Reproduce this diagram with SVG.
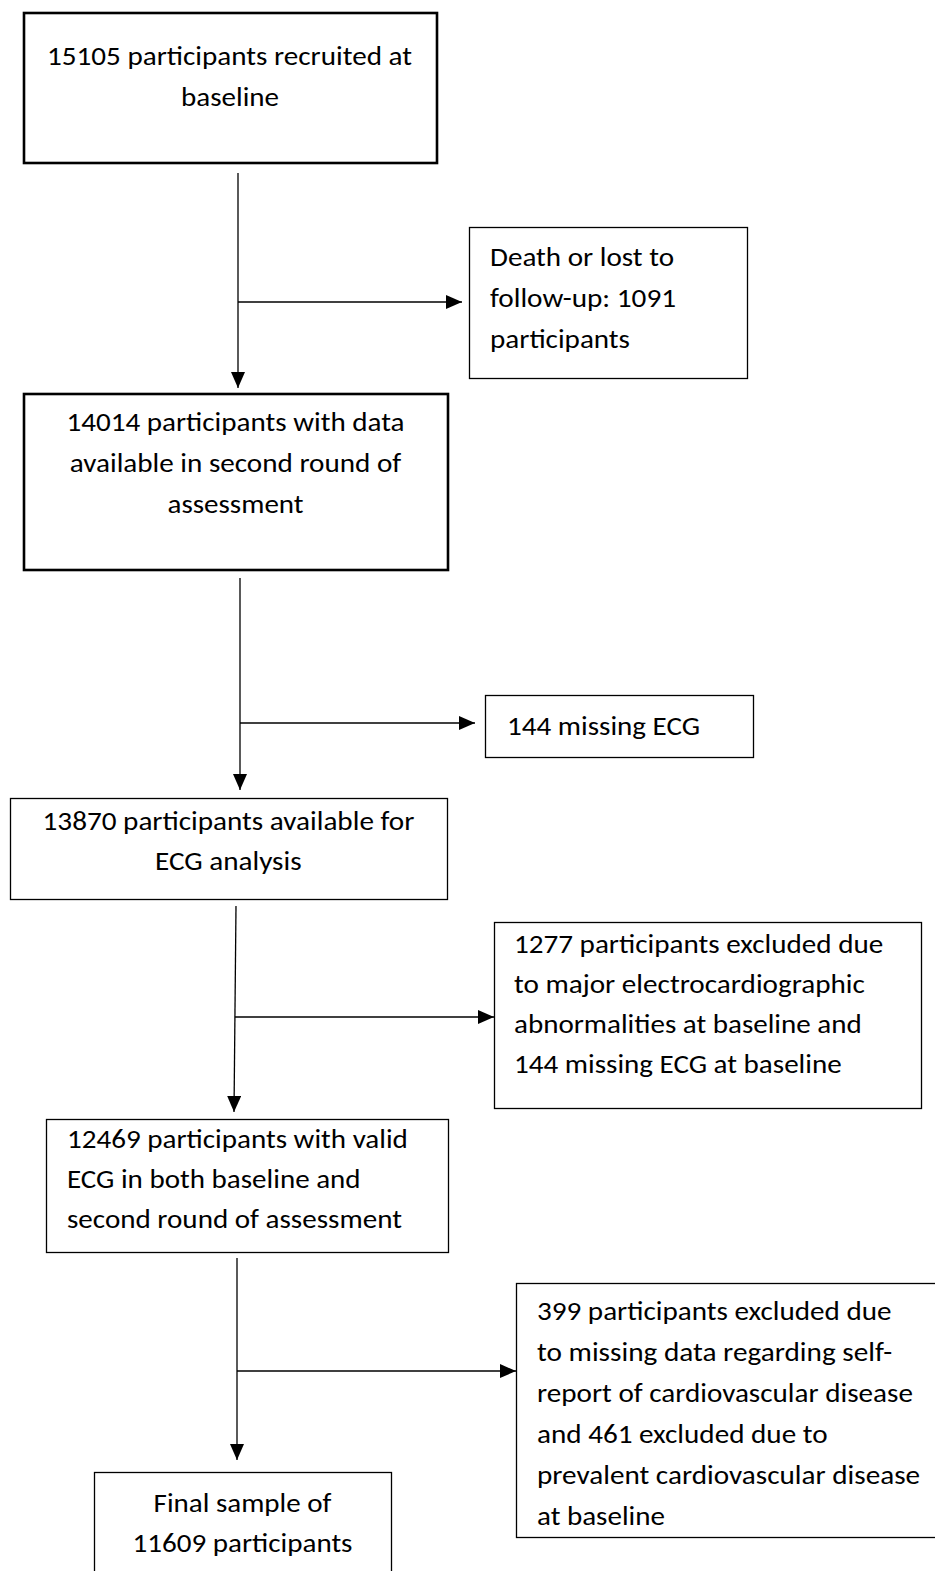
<svg xmlns="http://www.w3.org/2000/svg" width="935" height="1571" viewBox="0 0 935 1571">
<style>
.box{fill:#fff;stroke:#000;stroke-width:1.3}
.bold{fill:#fff;stroke:#000;stroke-width:2.6}
.t{font-family:Carlito,Lato,"Liberation Sans",sans-serif;font-size:27.5px;fill:#000}
.c{fill:none;stroke:#000;stroke-width:1.3}
</style>
<defs>
<marker id="ah" viewBox="0 0 16 14" refX="16" refY="7" markerWidth="16" markerHeight="14" markerUnits="userSpaceOnUse" orient="auto">
<path d="M0 0 L16 7 L0 14 Z" fill="#000"/>
</marker>
</defs>
<rect width="935" height="1571" fill="#fff"/>
<g id="connectors">
<path class="c" d="M238 173 V388" marker-end="url(#ah)"/>
<path class="c" d="M238 302 H462" marker-end="url(#ah)"/>
<path class="c" d="M240 578 V790" marker-end="url(#ah)"/>
<path class="c" d="M240 723 H475" marker-end="url(#ah)"/>
<path class="c" d="M236 906 L234 1112" marker-end="url(#ah)"/>
<path class="c" d="M235 1017 H494" marker-end="url(#ah)"/>
<path class="c" d="M237 1258 V1460" marker-end="url(#ah)"/>
<path class="c" d="M237 1371 H516" marker-end="url(#ah)"/>
</g>
<g id="n1">
<rect class="bold" x="24" y="13" width="413" height="150"/>
<text class="t" x="47" y="65" textLength="365" lengthAdjust="spacingAndGlyphs">15105 participants recruited at</text>
<text class="t" x="181" y="106" textLength="98" lengthAdjust="spacingAndGlyphs">baseline</text>
</g>
<g id="n2">
<rect class="box" x="469.5" y="227.5" width="278" height="151"/>
<text class="t" x="490" y="266" textLength="184" lengthAdjust="spacingAndGlyphs">Death or lost to</text>
<text class="t" x="490" y="307" textLength="186" lengthAdjust="spacingAndGlyphs">follow-up: 1091</text>
<text class="t" x="490" y="348" textLength="140" lengthAdjust="spacingAndGlyphs">participants</text>
</g>
<g id="n3">
<rect class="bold" x="24" y="394" width="424" height="176"/>
<text class="t" x="66.5" y="431" textLength="338" lengthAdjust="spacingAndGlyphs">14014 participants with data</text>
<text class="t" x="69.8" y="472" textLength="331.4" lengthAdjust="spacingAndGlyphs">available in second round of</text>
<text class="t" x="167.5" y="513" textLength="136" lengthAdjust="spacingAndGlyphs">assessment</text>
</g>
<g id="n4">
<rect class="box" x="485.5" y="695.5" width="268" height="62"/>
<text class="t" x="507" y="735" textLength="193" lengthAdjust="spacingAndGlyphs">144 missing ECG</text>
</g>
<g id="n5">
<rect class="box" x="10.5" y="798.5" width="437" height="101"/>
<text class="t" x="42.6" y="830" textLength="371.7" lengthAdjust="spacingAndGlyphs">13870 participants available for</text>
<text class="t" x="155" y="870" textLength="146.6" lengthAdjust="spacingAndGlyphs">ECG analysis</text>
</g>
<g id="n6">
<rect class="box" x="494.5" y="922.5" width="427" height="186"/>
<text class="t" x="514" y="953" textLength="369.3" lengthAdjust="spacingAndGlyphs">1277 participants excluded due</text>
<text class="t" x="514" y="993" textLength="350.9" lengthAdjust="spacingAndGlyphs">to major electrocardiographic</text>
<text class="t" x="514" y="1033" textLength="347.7" lengthAdjust="spacingAndGlyphs">abnormalities at baseline and</text>
<text class="t" x="514" y="1073" textLength="327.7" lengthAdjust="spacingAndGlyphs">144 missing ECG at baseline</text>
</g>
<g id="n7">
<rect class="box" x="46.5" y="1119.5" width="402" height="133"/>
<text class="t" x="67" y="1148" textLength="340.9" lengthAdjust="spacingAndGlyphs">12469 participants with valid</text>
<text class="t" x="67" y="1188" textLength="293.6" lengthAdjust="spacingAndGlyphs">ECG in both baseline and</text>
<text class="t" x="67" y="1228" textLength="334.9" lengthAdjust="spacingAndGlyphs">second round of assessment</text>
</g>
<g id="n8">
<rect class="box" x="516.5" y="1283.5" width="425" height="254"/>
<text class="t" x="537" y="1320" textLength="354.6" lengthAdjust="spacingAndGlyphs">399 participants excluded due</text>
<text class="t" x="537" y="1361" textLength="355.1" lengthAdjust="spacingAndGlyphs">to missing data regarding self-</text>
<text class="t" x="537" y="1402" textLength="375.9" lengthAdjust="spacingAndGlyphs">report of cardiovascular disease</text>
<text class="t" x="537" y="1443" textLength="290.6" lengthAdjust="spacingAndGlyphs">and 461 excluded due to</text>
<text class="t" x="537" y="1484" textLength="383.1" lengthAdjust="spacingAndGlyphs">prevalent cardiovascular disease</text>
<text class="t" x="537" y="1525" textLength="128" lengthAdjust="spacingAndGlyphs">at baseline</text>
</g>
<g id="n9">
<rect class="box" x="94.5" y="1472.5" width="297" height="110"/>
<text class="t" x="153.6" y="1512" textLength="177.7" lengthAdjust="spacingAndGlyphs">Final sample of</text>
<text class="t" x="132.5" y="1552" textLength="220" lengthAdjust="spacingAndGlyphs">11609 participants</text>
</g>
</svg>
